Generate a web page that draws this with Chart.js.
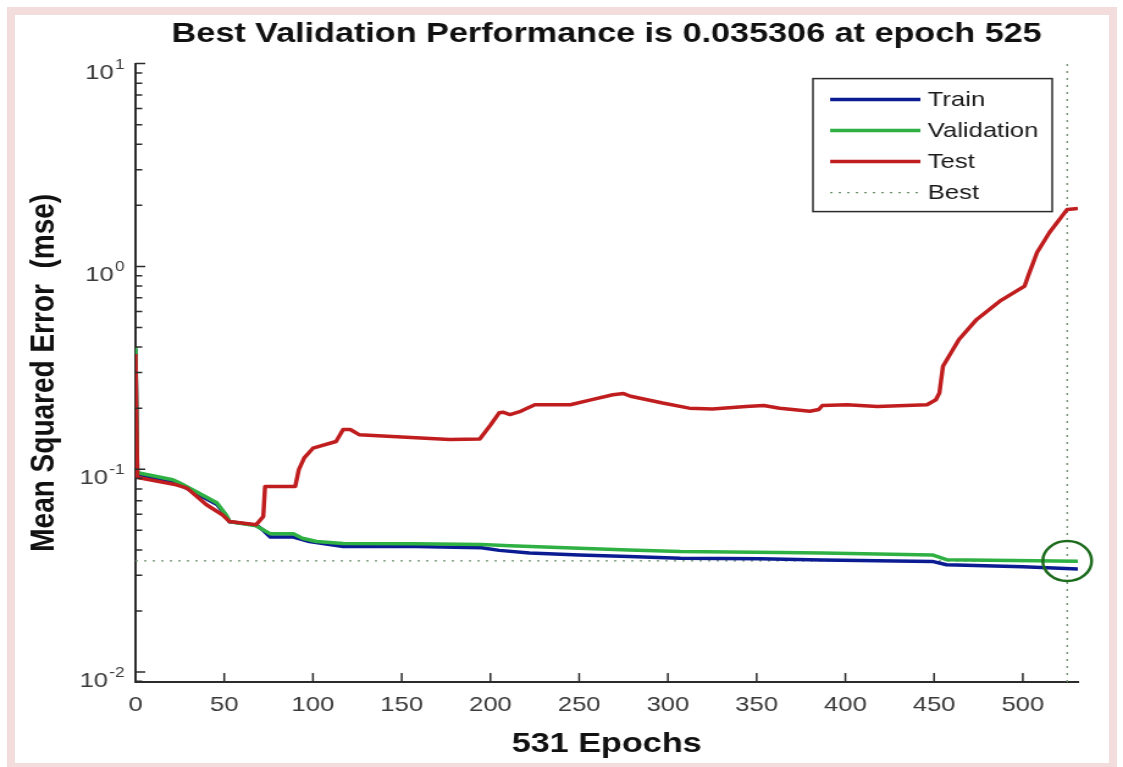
<!DOCTYPE html>
<html>
<head>
<meta charset="utf-8">
<title>Best Validation Performance</title>
<script src="https://cdn.jsdelivr.net/npm/chart.js@4.4.1/dist/chart.umd.min.js"></script>
<style>
  html, body { margin: 0; padding: 0; background: #fff; }
  #wrap { position: relative; width: 1123px; height: 767px; overflow: hidden; }
  #frame {
    position: absolute; left: 7px; top: 7px; width: 1110px; height: 760px;
    box-sizing: border-box; border: solid #f2dcdc; border-width: 8px 8px 4px 8px;
  }
  #chart { position: absolute; left: 0; top: 0; }
</style>
</head>
<body>
<div id="wrap">
  <div id="frame"></div>
  <!-- the original figure is stretched sideways, so the canvas is drawn narrow and widened by its inline style -->
  <canvas id="chart" width="920" height="767" style="width:1123px;height:767px"></canvas>
</div>
<script>
// Data (epoch, mse)
const trainEpochs = [0, 1, 2, 21, 25, 34, 46, 51, 53, 68, 72, 76, 89, 98, 117, 158, 195, 205, 222, 250, 278, 307, 352, 387, 449, 457, 500, 531];
const trainMse = [0.39, 0.095, 0.094, 0.087, 0.084, 0.076, 0.067, 0.059, 0.055, 0.053, 0.050, 0.0463, 0.0463, 0.0440, 0.0416, 0.0416, 0.0410, 0.0398, 0.0386, 0.0378, 0.0371, 0.0364, 0.0362, 0.0357, 0.0351, 0.0338, 0.0330, 0.0322];

const validEpochs = [0, 1, 2, 21, 25, 34, 46, 51, 53, 68, 72, 76, 89, 94, 102, 117, 158, 195, 211, 250, 278, 307, 363, 387, 449, 457, 531];
const validMse = [0.40, 0.097, 0.0958, 0.0888, 0.0855, 0.0777, 0.0681, 0.0596, 0.0552, 0.0526, 0.0502, 0.0480, 0.0480, 0.0457, 0.0440, 0.0430, 0.0429, 0.0426, 0.0420, 0.0408, 0.0400, 0.0393, 0.0388, 0.0386, 0.0378, 0.0358, 0.0352];

const testEpochs = [0, 1, 2, 23, 29, 40, 49, 53, 68, 72, 73, 90, 92, 95, 100, 113, 117, 121, 126, 158, 177, 194, 200, 205, 207, 211, 217, 225, 245, 256, 269, 275, 279, 297, 312, 325, 344, 354, 363, 380, 385, 387, 401, 418, 446, 451, 453, 455, 464, 474, 487, 501, 503, 508, 515, 525, 531];
const testMse = [0.37, 0.092, 0.0908, 0.0838, 0.0807, 0.0668, 0.0596, 0.0552, 0.0532, 0.0585, 0.0822, 0.0822, 0.0994, 0.1135, 0.127, 0.137, 0.157, 0.157, 0.148, 0.143, 0.140, 0.141, 0.165, 0.190, 0.191, 0.186, 0.193, 0.208, 0.208, 0.219, 0.233, 0.236, 0.229, 0.212, 0.200, 0.198, 0.204, 0.206, 0.200, 0.193, 0.197, 0.206, 0.208, 0.204, 0.208, 0.220, 0.238, 0.322, 0.436, 0.548, 0.674, 0.800, 0.896, 1.17, 1.47, 1.91, 1.93];

const bestEpoch = 525;
const bestMse = 0.035306;
const totalEpochs = 531;

const xTickValues = [0, 50, 100, 150, 200, 250, 300, 350, 400, 450, 500];
const yTickValues = [0.01, 0.1, 1, 10];
const yTickExponents = ['-2', '-1', '0', '1'];
const yMin = 0.00893;
const yMax = 10;

const legendLabels = ['Train', 'Validation', 'Test', 'Best'];

const FONT = "'Liberation Sans', Arial, Helvetica, sans-serif";
const AXIS_COLOR = '#2b2b2b';
const TICK_COLOR = '#3a3a3a';

const toPoints = (xs, ys) => xs.map((x, i) => ({ x: x, y: ys[i] }));

// MATLAB style inward ticks and 10^n tick labels
const matlabAxes = {
  id: 'matlabAxes',
  afterDraw(chart) {
    const { ctx, chartArea: a, scales: { x, y } } = chart;
    ctx.save();
    ctx.strokeStyle = AXIS_COLOR;
    ctx.lineWidth = 1.5;
    ctx.beginPath();
    xTickValues.forEach((v) => {
      const px = x.getPixelForValue(v);
      ctx.moveTo(px, a.bottom);
      ctx.lineTo(px, a.bottom - 9);
    });
    for (let e = -3; e <= 1; e++) {
      for (let m = 1; m <= 9; m++) {
        const v = m * Math.pow(10, e);
        if (v < y.min || v > y.max * 1.001) continue;
        const py = y.getPixelForValue(v);
        ctx.moveTo(a.left, py);
        ctx.lineTo(a.left + (m === 1 ? 8 : 5.5), py);
      }
    }
    ctx.stroke();

    // tick labels with raised exponent
    ctx.fillStyle = TICK_COLOR;
    ctx.textBaseline = 'alphabetic';
    yTickValues.forEach((v, i) => {
      const py = y.getPixelForValue(v);
      const right = a.left - 9;
      ctx.font = `14px ${FONT}`;
      const expW = ctx.measureText(yTickExponents[i]).width;
      ctx.textAlign = 'left';
      ctx.fillText(yTickExponents[i], right - expW, py + 5);
      ctx.font = `21px ${FONT}`;
      ctx.textAlign = 'right';
      ctx.fillText('10', right - expW - 1, py + 15);
    });
    ctx.restore();
  }
};

// Legend box inside the axes, top right
const boxLegend = {
  id: 'boxLegend',
  afterDraw(chart) {
    const { ctx, chartArea: a } = chart;
    const x0 = a.right - 217;
    const y0 = a.top + 15;
    const w = 196;
    const h = 133;
    ctx.save();
    ctx.fillStyle = '#fff';
    ctx.fillRect(x0, y0, w, h);
    ctx.strokeStyle = AXIS_COLOR;
    ctx.lineWidth = 1.5;
    ctx.strokeRect(x0, y0, w, h);
    ctx.font = `21px ${FONT}`;
    ctx.textAlign = 'left';
    ctx.textBaseline = 'middle';
    legendLabels.forEach((label, i) => {
      const ds = chart.data.datasets.find((d) => d.label === label);
      const ly = y0 + 21 + i * 31;
      ctx.strokeStyle = ds.borderColor;
      ctx.lineWidth = ds.borderWidth;
      ctx.setLineDash(ds.borderDash || []);
      ctx.beginPath();
      ctx.moveTo(x0 + 14, ly);
      ctx.lineTo(x0 + 88, ly);
      ctx.stroke();
      ctx.setLineDash([]);
      ctx.fillStyle = '#1a1a1a';
      ctx.fillText(label, x0 + 94, ly + 1);
    });
    ctx.restore();
  }
};

const ctx = document.getElementById('chart').getContext('2d');

new Chart(ctx, {
  type: 'line',
  data: {
    datasets: [
      {
        label: 'Test',
        data: toPoints(testEpochs, testMse),
        borderColor: '#c01d1f',
        borderWidth: 3.5,
        order: 1,
      },
      {
        label: 'Validation',
        data: toPoints(validEpochs, validMse),
        borderColor: '#2fb043',
        borderWidth: 3.5,
        order: 2,
      },
      {
        label: 'Train',
        data: toPoints(trainEpochs, trainMse),
        borderColor: '#0b1c92',
        borderWidth: 3.5,
        order: 3,
      },
      {
        label: 'Best',
        data: [{ x: 0, y: bestMse }, { x: totalEpochs, y: bestMse }],
        borderColor: '#6f8f6f',
        borderWidth: 1.3,
        borderDash: [2, 5],
        order: 4,
      },
      {
        label: 'Best epoch',
        data: [{ x: bestEpoch, y: yMin }, { x: bestEpoch, y: yMax }],
        borderColor: '#6f8f6f',
        borderWidth: 1.3,
        borderDash: [2, 5],
        order: 4,
      },
      {
        label: 'Best point',
        data: [{ x: bestEpoch, y: bestMse }],
        showLine: false,
        pointRadius: 20,
        pointBorderWidth: 2.5,
        pointBorderColor: '#1d6b1d',
        pointBackgroundColor: 'rgba(0,0,0,0)',
        clip: false,
        order: 0,
      },
    ],
  },
  options: {
    responsive: false,
    animation: false,
    devicePixelRatio: 1,
    layout: { padding: { left: 0, right: 37, top: 0, bottom: 0 } },
    elements: {
      point: { radius: 0 },
      line: { tension: 0, borderCapStyle: 'butt', borderJoinStyle: 'round' },
    },
    plugins: {
      legend: { display: false },
      tooltip: { enabled: false },
      title: {
        display: true,
        fullSize: false,
        text: 'Best Validation Performance is 0.035306 at epoch 525',
        color: '#111',
        font: { family: FONT, size: 28, weight: 'bold' },
        padding: { top: 17, bottom: 13 },
      },
    },
    scales: {
      x: {
        type: 'linear',
        min: 0,
        max: totalEpochs,
        afterBuildTicks: (s) => { s.ticks = xTickValues.map((v) => ({ value: v })); },
        afterFit: (s) => { s.height = 85; },
        grid: { display: false, drawTicks: false },
        border: { color: AXIS_COLOR, width: 2 },
        ticks: {
          color: TICK_COLOR,
          font: { family: FONT, size: 21 },
          padding: 11,
          maxRotation: 0,
          autoSkip: false,
        },
        title: {
          display: true,
          text: '531 Epochs',
          color: '#111',
          font: { family: FONT, size: 28, weight: 'bold' },
          padding: { top: 0, bottom: 6 },
        },
      },
      y: {
        type: 'logarithmic',
        min: yMin,
        max: yMax,
        afterBuildTicks: (s) => { s.ticks = yTickValues.map((v) => ({ value: v })); },
        afterFit: (s) => { s.width = 111; },
        grid: { display: false, drawTicks: false },
        border: { color: AXIS_COLOR, width: 2 },
        ticks: { display: false },
        title: {
          display: true,
          text: 'Mean Squared Error  (mse)',
          color: '#111',
          font: { family: FONT, size: 28, weight: 'bold' },
          padding: { top: 19, bottom: 0 },
        },
      },
    },
  },
  plugins: [matlabAxes, boxLegend],
});
</script>
</body>
</html>
